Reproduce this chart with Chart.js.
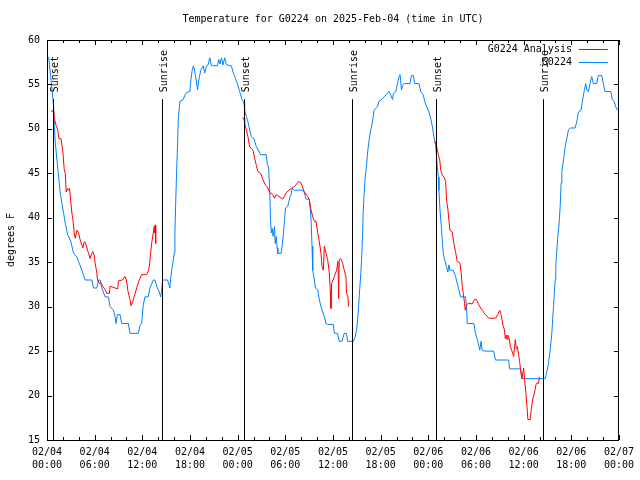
<!DOCTYPE html>
<html>
<head>
<meta charset="utf-8">
<script src="https://cdn.jsdelivr.net/npm/chart.js@4/dist/chart.umd.min.js"></script>
<style>
  html, body { margin: 0; padding: 0; background: #fff; }
  #wrap { width: 640px; height: 480px; }
</style>
</head>
<body>
<div id="wrap"><canvas id="tempCanvas" width="640" height="480"></canvas></div>
<script>
// hours since 02/04 00:00 UTC, temps in degrees F
const stationHours = [0.21,0.42,0.63,0.84,0.92,1.05,1.25,1.46,1.67,1.88,2.09,2.30,2.59,2.93,3.14,3.34,3.76,3.97,4.39,4.81,5.64,5.85,6.27,6.48,6.69,6.90,7.32,7.73,7.94,8.36,8.57,8.70,8.86,9.20,9.41,10.24,10.45,11.50,11.71,11.91,12.12,12.33,12.75,12.96,13.38,13.59,13.88,14.13,14.30,14.42,14.55,15.18,15.47,15.60,15.77,16.02,16.10,16.19,16.31,16.44,16.52,16.73,17.15,17.36,17.56,17.98,18.11,18.28,18.44,18.61,18.78,18.95,19.11,19.36,19.66,19.86,20.07,20.28,20.49,20.70,21.45,21.62,21.79,21.96,22.16,22.37,22.58,23.21,23.42,23.63,23.96,24.25,24.55,24.80,24.88,25.09,25.30,25.51,25.72,26.05,26.35,26.89,27.60,27.73,27.90,28.02,28.14,28.23,28.35,28.47,28.64,28.73,28.85,28.98,29.06,29.48,29.60,29.77,29.90,30.02,30.31,30.44,30.61,30.73,30.86,31.15,32.20,32.40,32.61,33.03,33.24,33.36,33.45,33.66,33.78,34.08,34.28,34.49,34.70,34.91,35.12,35.33,36.04,36.17,36.58,36.79,37.13,37.42,37.71,37.84,38.55,38.80,38.97,39.10,39.22,39.39,39.51,39.64,39.72,39.80,39.93,40.05,40.22,40.35,40.56,40.76,40.97,41.18,41.60,41.81,42.23,42.44,42.85,43.06,43.28,43.49,43.61,43.91,44.12,44.33,44.45,44.62,44.79,44.95,45.70,45.87,46.12,46.29,46.83,47.04,47.38,47.54,47.79,48.09,48.30,48.50,48.71,48.92,49.01,49.13,49.26,49.34,49.47,49.64,49.76,49.89,50.05,50.30,50.47,50.60,50.72,51.14,51.43,51.64,51.85,52.06,52.69,52.81,52.90,53.73,53.94,54.23,54.48,54.65,54.78,55.07,56.24,56.45,58.12,58.24,59.58,59.79,62.72,62.93,63.13,63.34,63.55,63.76,63.97,64.05,64.18,64.31,64.47,64.60,64.72,64.81,65.02,65.23,65.43,65.64,65.85,66.48,66.69,66.90,67.23,67.40,67.65,67.82,67.94,68.15,68.36,68.57,68.78,69.20,69.41,69.83,70.03,70.24,70.99,71.16,71.41,71.58,71.83];
const stationTemps = [58.1,56.3,54.4,52.5,50.3,48.4,46.5,44.6,42.8,41.6,40.5,39.4,38.1,37.5,36.8,36.0,35.6,35.1,34.1,33.0,33.0,32.1,32.1,33.0,33.0,32.1,31.1,31.1,30.0,29.6,28.9,28.1,29.1,29.1,28.1,28.1,27.0,27.0,27.9,28.1,30.2,31.1,31.1,32.1,33.0,33.0,32.1,31.7,31.1,31.7,33.0,33.0,32.1,33.4,34.5,36.0,38.3,41.3,45.0,48.4,51.0,53.1,53.3,53.8,54.1,54.2,55.5,56.6,57.1,56.4,55.5,54.4,55.5,56.6,57.1,56.3,57.1,57.2,58.0,57.1,57.1,57.8,57.3,58.0,57.2,58.0,57.2,57.1,56.4,55.9,55.1,54.2,53.3,52.9,52.1,51.4,50.8,49.9,49.1,48.9,48.0,47.1,47.1,46.1,45.6,43.5,39.8,38.3,38.8,37.9,39.0,37.1,37.9,36.6,36.0,36.0,36.8,38.3,39.8,41.1,41.3,41.8,42.4,42.6,43.3,43.1,43.1,42.8,42.1,42.1,39.8,36.8,34.1,33.0,32.1,31.9,30.8,30.0,29.4,28.9,28.1,28.0,28.0,27.0,27.0,26.1,26.1,27.0,27.0,26.1,26.1,26.6,27.4,28.5,30.0,32.3,33.8,36.0,37.9,40.5,42.8,44.6,45.8,47.3,48.8,49.9,50.8,52.1,52.5,53.1,53.4,53.6,54.0,54.2,53.8,53.3,54.0,54.2,55.1,55.9,56.1,54.4,54.9,55.1,55.1,56.0,56.0,55.1,55.1,54.2,53.8,53.1,52.5,51.9,51.2,50.3,49.1,48.2,47.1,45.8,44.6,43.1,40.9,39.0,37.5,36.0,35.3,34.5,33.9,34.7,34.1,34.1,33.4,32.6,31.9,31.1,31.1,30.0,28.1,28.1,27.0,26.1,25.1,26.1,25.1,25.0,25.0,24.0,24.0,23.0,23.0,21.9,21.9,22.7,23.6,25.1,27.0,30.0,33.0,34.5,36.4,37.9,39.4,41.3,43.9,45.2,46.5,48.0,48.9,49.9,50.1,50.1,50.8,51.9,52.1,53.1,54.4,55.1,54.4,54.2,55.1,55.9,55.1,55.1,56.0,56.0,55.1,54.2,54.2,53.3,53.1,52.5,52.1];

// analysis only exists at night: null breaks the line between nights
const analysisHours = [0.50,0.84,0.92,1.17,1.34,1.50,1.76,2.00,2.17,2.30,2.42,2.59,2.72,2.84,3.01,3.14,3.26,3.43,3.55,3.76,3.97,4.18,4.52,4.68,4.85,5.02,5.23,5.43,5.64,5.77,5.94,6.06,6.27,6.35,6.61,6.77,7.02,7.32,7.53,7.86,7.94,8.90,9.00,9.50,9.82,10.00,10.20,10.45,10.58,10.80,11.10,11.35,11.62,11.91,12.54,12.75,12.88,13.04,13.17,13.38,13.50,13.58,13.62,13.66,13.71,
  18.0,
  24.59,24.80,24.88,25.09,25.30,25.51,25.72,25.93,26.14,26.35,26.55,26.89,27.18,27.47,27.72,28.02,28.43,28.64,28.85,29.18,29.69,30.10,30.44,30.73,31.15,31.69,31.99,32.40,32.82,33.03,33.24,33.45,33.66,33.87,34.08,34.28,34.49,34.62,34.79,34.91,35.12,35.33,35.54,35.66,35.75,35.83,36.17,36.46,36.63,36.71,36.79,37.00,37.21,37.42,37.63,37.71,37.88,37.96,
  43.0,
  48.71,48.92,49.05,49.22,49.47,49.55,49.76,49.97,50.18,50.30,50.47,50.72,51.01,51.22,51.43,51.64,51.98,52.14,52.27,52.40,52.56,52.65,52.81,53.10,53.52,53.82,54.07,54.36,54.78,55.20,55.62,56.45,56.74,56.99,57.16,57.41,57.58,57.70,57.83,57.91,58.03,58.20,58.33,58.54,58.75,58.95,59.08,59.20,59.37,59.50,59.62,59.79,60.00,60.12,60.29,60.42,60.54,60.84,60.96,61.13,61.38,61.55,61.67,61.88,61.97];
const analysisTemps = [52.0,52.0,51.2,50.3,49.9,48.9,48.9,47.4,45.4,45.0,42.9,43.3,43.1,43.3,41.6,40.5,39.8,38.3,37.7,38.6,38.3,37.5,36.6,37.3,37.2,36.6,36.0,35.4,36.0,36.2,35.8,34.9,33.8,33.0,32.6,32.7,32.3,31.9,31.5,31.5,32.3,32.0,32.9,33.0,33.4,33.0,31.7,30.8,30.1,30.6,31.5,32.3,33.0,33.6,33.6,34.0,34.5,36.0,37.1,38.3,39.0,38.3,39.2,38.2,37.1,
  null,
  51.2,51.2,50.6,49.9,49.1,48.0,47.8,47.6,46.7,45.9,45.2,45.0,44.3,43.7,43.5,42.9,42.6,42.2,42.6,42.4,42.1,42.8,43.1,43.3,43.5,44.1,43.9,42.9,42.4,42.0,40.9,40.1,39.6,39.6,38.3,37.3,36.0,34.5,34.1,36.8,36.0,35.3,33.8,31.9,29.8,32.6,33.4,34.1,35.1,30.9,35.3,35.4,34.9,34.1,33.4,31.5,31.1,30.0,
  null,
  48.5,48.5,48.0,47.3,46.3,45.4,44.8,44.6,44.1,42.0,40.9,38.6,38.4,37.1,36.2,35.1,34.9,33.8,32.3,31.5,30.4,29.6,30.2,30.4,30.3,30.8,30.8,30.2,29.6,29.1,28.7,28.7,29.1,29.6,29.1,27.9,27.4,26.4,26.8,26.3,26.8,26.3,25.5,25.0,24.4,26.3,25.3,25.5,24.6,23.8,22.9,21.9,23.1,21.8,20.3,18.8,17.3,17.3,18.4,19.5,20.4,21.2,21.4,21.4,22.1];

const sunEvents = ['Sunset', 'Sunrise', 'Sunset', 'Sunrise', 'Sunset', 'Sunrise'];
const sunHours = [0.79, 14.47, 24.84, 38.40, 48.97, 62.50];

const MONO = '"DejaVu Sans Mono", "Liberation Mono", monospace';

function pts(xs, ys) {
    return xs.map((x, i) => ({ x: x, y: ys[i] }));
}

function hourLabel(v) {
    const day = 4 + Math.floor(v / 24);
    const hh = v % 24;
    return ['02/0' + day, (hh < 10 ? '0' : '') + hh + ':00'];
}

// gnuplot style decorations: border, inward tics, sun markers, legend, title
const decor = {
    id: 'decor',
    afterDatasetsDraw(chart) {
        const ctx = chart.ctx;
        const a = chart.chartArea;
        const xs = chart.scales.x;
        const ys = chart.scales.y;
        ctx.save();
        ctx.strokeStyle = '#000';
        ctx.lineWidth = 1;

        // sunrise / sunset lines
        ctx.font = '10px ' + MONO;
        ctx.fillStyle = '#000';
        const lineTop = a.top + (a.bottom - a.top) * 0.148;
        sunHours.forEach((h, i) => {
            const px = Math.round(xs.getPixelForValue(h)) + 0.5;
            ctx.beginPath();
            ctx.moveTo(px, lineTop);
            ctx.lineTo(px, a.bottom);
            ctx.stroke();
            ctx.save();
            ctx.translate(px + 2, lineTop - 7);
            ctx.rotate(-Math.PI / 2);
            ctx.textAlign = 'left';
            ctx.textBaseline = 'middle';
            ctx.fillText(sunEvents[i], 0, 0);
            ctx.restore();
        });

        // border
        ctx.strokeRect(a.left + 0.5, a.top + 0.5, a.right - a.left - 1, a.bottom - a.top);

        // x tics (major every 6h, minor every 2h)
        ctx.beginPath();
        for (let h = 0; h <= 72; h += 2) {
            const px = Math.round(xs.getPixelForValue(h)) + 0.5;
            const len = h % 6 === 0 ? 5 : 3;
            ctx.moveTo(px, a.bottom);
            ctx.lineTo(px, a.bottom - len);
            ctx.moveTo(px, a.top);
            ctx.lineTo(px, a.top + len);
        }
        // y tics
        for (let v = 15; v <= 60; v += 5) {
            const py = Math.round(ys.getPixelForValue(v)) + 0.5;
            ctx.moveTo(a.left, py);
            ctx.lineTo(a.left + 5, py);
            ctx.moveTo(a.right, py);
            ctx.lineTo(a.right - 5, py);
        }
        ctx.stroke();

        // legend, top right inside the plot
        ctx.textAlign = 'right';
        ctx.textBaseline = 'middle';
        chart.data.datasets.forEach((ds, i) => {
            const y = a.top + 9 + i * 13;
            ctx.fillStyle = '#000';
            ctx.fillText(ds.label, a.right - 47, y);
            ctx.strokeStyle = ds.borderColor;
            ctx.beginPath();
            ctx.moveTo(a.right - 40, Math.round(y) + 0.5);
            ctx.lineTo(a.right - 11, Math.round(y) + 0.5);
            ctx.stroke();
        });

        // title
        ctx.fillStyle = '#000';
        ctx.textAlign = 'center';
        ctx.fillText('Temperature for G0224 on 2025-Feb-04 (time in UTC)', (a.left + a.right) / 2, 19);
        ctx.restore();
    }
};

const tempCanvas = document.getElementById('tempCanvas');
const tempChart = new Chart(tempCanvas, {
    type: 'line',
    data: {
        datasets: [{
            label: 'G0224 Analysis',
            data: pts(analysisHours, analysisTemps),
            borderColor: '#ff0000',
            borderWidth: 1,
            pointRadius: 0,
            spanGaps: false
        }, {
            label: 'G0224',
            data: pts(stationHours, stationTemps),
            borderColor: '#0080ff',
            borderWidth: 1,
            pointRadius: 0
        }]
    },
    options: {
        responsive: false,
        animation: false,
        devicePixelRatio: 1,
        layout: { padding: { top: 40, right: 19, left: 0, bottom: 0 } },
        plugins: {
            legend: { display: false },
            title: { display: false },
            tooltip: { enabled: false }
        },
        scales: {
            x: {
                type: 'linear',
                min: 0,
                max: 72,
                grid: { display: false, drawTicks: false },
                border: { display: false },
                afterFit: (scale) => { scale.height = 40; },
                ticks: {
                    stepSize: 6,
                    autoSkip: false,
                    maxRotation: 0,
                    padding: 6,
                    color: '#000',
                    font: { family: MONO, size: 10, lineHeight: '13px' },
                    callback: (v) => hourLabel(v)
                }
            },
            y: {
                min: 15,
                max: 60,
                grid: { display: false, drawTicks: false },
                border: { display: false },
                afterFit: (scale) => { scale.width = 47; },
                title: {
                    display: true,
                    text: 'degrees F',
                    color: '#000',
                    font: { family: MONO, size: 10 },
                    padding: { top: 5, bottom: 0 }
                },
                ticks: {
                    stepSize: 5,
                    padding: 7,
                    color: '#000',
                    font: { family: MONO, size: 10 }
                }
            }
        }
    },
    plugins: [decor]
});
</script>
</body>
</html>
